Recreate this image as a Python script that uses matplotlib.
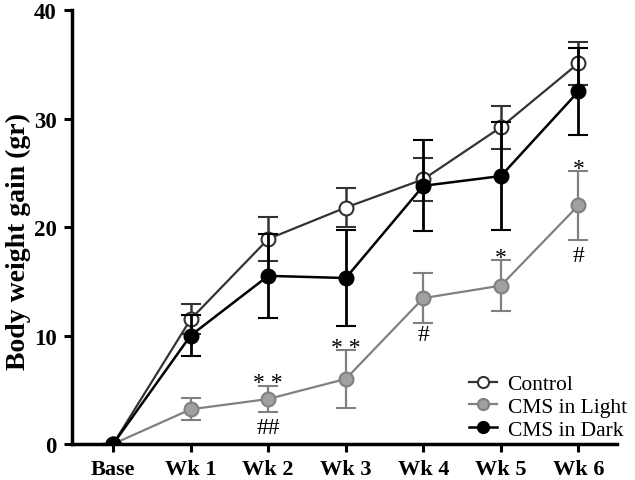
import matplotlib
matplotlib.use("Agg")
import matplotlib.pyplot as plt
from matplotlib.lines import Line2D

categories = ["Base", "Wk 1", "Wk 2", "Wk 3", "Wk 4", "Wk 5", "Wk 6"]
control = [0, 11.5, 18.9, 21.8, 24.4, 29.2, 35.1]
control_sem = [0, 1.4, 2.0, 1.8, 2.0, 2.0, 2.0]
light = [0, 3.2, 4.15, 6.0, 13.45, 14.6, 22.0]
light_sem = [0, 1.0, 1.2, 2.7, 2.3, 2.35, 3.2]
dark = [0, 10.0, 15.5, 15.3, 23.8, 24.7, 32.5]
dark_sem = [0, 1.85, 3.9, 4.45, 4.2, 5.0, 4.0]

sig_idx = [2, 2, 3, 4, 5, 6, 6]
sig_y = [6.3, 1.55, 9.5, 10.1, 17.8, 26.0, 17.4]
sig_txt = ["* *", "##", "* *", "#", "*", "*", "#"]

plt.rcParams['font.family'] = ['Liberation Serif', 'DejaVu Serif']

fig = plt.figure(figsize=(6.35, 4.81), dpi=100)
ax = fig.add_axes([0.1134, 0.0748, 0.8586, 0.9022])

x = list(range(len(categories)))
grey = "#808080"
lightfill = "#a0a0a0"
ctrl_col = "#333333"

ax.errorbar(x, light, yerr=light_sem, color=grey, lw=1.6, marker='o', ms=10,
            mfc=lightfill, mec=grey, mew=1.5, capsize=7, capthick=1.6, elinewidth=1.6, zorder=2)
ax.errorbar(x, control, yerr=control_sem, color=ctrl_col, lw=1.6, marker='o', ms=10,
            mfc='white', mec=ctrl_col, mew=1.5, capsize=7, capthick=1.8, elinewidth=1.8, zorder=3)
ax.errorbar(x, dark, yerr=dark_sem, color='black', lw=1.8, marker='o', ms=10,
            mfc='black', mec='black', mew=1.5, capsize=7, capthick=2, elinewidth=2, zorder=4)

for i, yv, t in zip(sig_idx, sig_y, sig_txt):
    ax.text(i, yv - (0.6 if '*' in t else 0), t, ha='center', va='center', fontsize=17, color='black')

ax.set_xlim(-0.53, 6.5)
ax.set_ylim(0, 40)
ax.set_yticks([0, 10, 20, 30, 40])
ax.set_xticks(x)
ax.set_xticklabels(categories)
for lbl in ax.get_xticklabels():
    lbl.set_fontweight('bold')
    lbl.set_fontsize(16)
for lbl in ax.get_yticklabels():
    lbl.set_fontweight('bold')
    lbl.set_fontsize(16.5)
ax.tick_params(axis='both', width=2.2, length=6, direction='out', pad=5)
for s in ['top', 'right']:
    ax.spines[s].set_visible(False)
for s in ['left', 'bottom']:
    ax.spines[s].set_linewidth(2.5)
ax.set_ylabel("Body weight gain (gr)", fontsize=20, fontweight='bold')
ax.yaxis.set_label_coords(-0.075, 0.468)

handles = [
    Line2D([], [], color=ctrl_col, lw=1.6, marker='o', ms=8, mfc='white', mec=ctrl_col, mew=1.5),
    Line2D([], [], color=grey, lw=1.6, marker='o', ms=8, mfc=lightfill, mec=grey, mew=1.5),
    Line2D([], [], color='black', lw=1.8, marker='o', ms=8, mfc='black', mec='black', mew=1.5),
]
ax.legend(handles, ["Control", "CMS in Light", "CMS in Dark"], loc='lower right',
          bbox_to_anchor=(1.045, -0.025), frameon=False, fontsize=15.5, handlelength=1.3,
          handletextpad=0.5, labelspacing=0.13, borderaxespad=0.3)

fig.savefig("out.png", dpi=100)
